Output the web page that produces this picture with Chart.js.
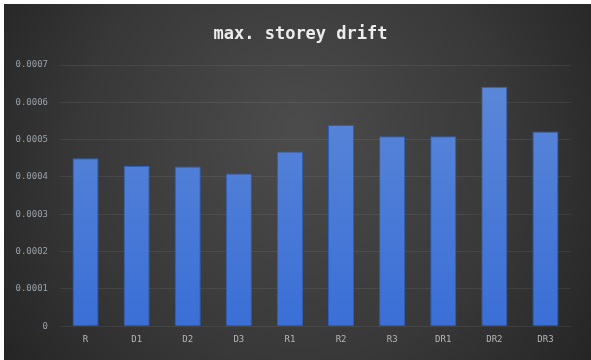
<!DOCTYPE html>
<html>
<head>
<meta charset="utf-8">
<script src="https://cdn.jsdelivr.net/npm/chart.js@4"></script>
<style>
  html, body { margin: 0; padding: 0; background: #fff; }
  #wrap { position: absolute; left: 4px; top: 4px; width: 587px; height: 356px; }
</style>
</head>
<body>
<div id="wrap"><canvas id="chart"></canvas></div>
<script>
var labels = ['R', 'D1', 'D2', 'D3', 'R1', 'R2', 'R3', 'DR1', 'DR2', 'DR3'];
var drift = [0.000450, 0.000429, 0.000428, 0.000409, 0.000468, 0.000539, 0.000509, 0.000509, 0.000642, 0.000522];
var yTicks = [0, 0.0001, 0.0002, 0.0003, 0.0004, 0.0005, 0.0006, 0.0007];
var chartTitle = 'max. storey drift';

var mono = 'DejaVu Sans Mono';

// dark vignette behind everything
var backdrop = {
    id: 'backdrop',
    beforeDraw: function(chart) {
        var c = chart.ctx, w = chart.width, h = chart.height;
        var g = c.createRadialGradient(w * 0.5, h * 0.35, 10, w * 0.5, h * 0.45, w * 0.6);
        g.addColorStop(0, '#4b4b4b');
        g.addColorStop(0.6, '#383838');
        g.addColorStop(1, '#252525');
        c.save();
        c.fillStyle = g;
        c.fillRect(0, 0, w, h);
        c.restore();
    }
};

// title centred on the whole canvas, not the padded box
var heading = {
    id: 'heading',
    afterDraw: function(chart) {
        var c = chart.ctx;
        c.save();
        c.font = 'bold 17px "' + mono + '"';
        c.fillStyle = '#ececec';
        c.textAlign = 'center';
        c.textBaseline = 'middle';
        c.fillText(chartTitle, chart.width / 2 + 3, 31);
        c.restore();
    }
};

function barFill(context) {
    var area = context.chart.chartArea;
    if (!area) return '#4a7ad6';
    var g = context.chart.ctx.createLinearGradient(0, area.top, 0, area.bottom);
    g.addColorStop(0, '#5e89d9');
    g.addColorStop(1, '#3b6fd6');
    return g;
}

var ctx = document.getElementById('chart').getContext('2d');
var chart = new Chart(ctx, {
    type: 'bar',
    data: {
        labels: labels,
        datasets: [{
            label: chartTitle,
            data: drift,
            backgroundColor: barFill,
            borderColor: '#2f5fb8',
            borderWidth: 1,
            categoryPercentage: 1,
            barPercentage: 0.51
        }]
    },
    options: {
        responsive: true,
        maintainAspectRatio: false,
        animation: false,
        layout: { padding: { left: 0, right: 20, top: 61, bottom: 7 } },
        plugins: {
            legend: { display: false },
            tooltip: { enabled: false },
            title: { display: false }
        },
        scales: {
            x: {
                grid: { display: false, drawTicks: false },
                border: { display: false },
                ticks: { color: '#b5b5b5', font: { family: mono, size: 9 }, padding: 8 }
            },
            y: {
                min: 0,
                max: 0.0007,
                afterBuildTicks: function(scale) {
                    scale.ticks = yTicks.map(function(v) { return { value: v }; });
                },
                afterFit: function(scale) { scale.width = 56; },
                grid: { color: 'rgba(255,255,255,0.07)', lineWidth: 1, drawTicks: false },
                border: { display: false },
                ticks: {
                    color: '#9aa0a8',
                    font: { family: mono, size: 9 },
                    padding: 12,
                    callback: function(v) { return v === 0 ? '0' : v.toFixed(4); }
                }
            }
        }
    },
    plugins: [backdrop, heading]
});
</script>
</body>
</html>
